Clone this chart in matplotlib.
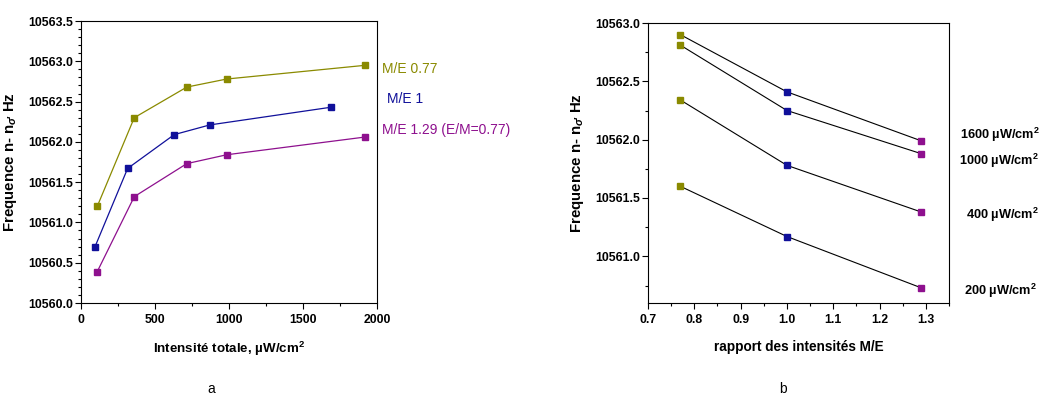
import matplotlib
matplotlib.use("Agg")
import matplotlib.pyplot as plt
from matplotlib.ticker import MultipleLocator, FormatStrFormatter

plt.rcParams['font.family'] = ['Liberation Sans', 'DejaVu Sans']
plt.rcParams['mathtext.fontset'] = 'custom'
plt.rcParams['mathtext.rm'] = 'Liberation Sans:bold'
plt.rcParams['mathtext.it'] = 'Liberation Sans:italic:bold'

# Panel a data
x_077 = [110, 360, 715, 985, 1920]
y_077 = [10561.20, 10562.30, 10562.68, 10562.78, 10562.95]
x_1 = [95, 315, 630, 870, 1690]
y_1 = [10560.70, 10561.67, 10562.09, 10562.21, 10562.43]
x_129 = [110, 360, 715, 985, 1920]
y_129 = [10560.39, 10561.32, 10561.73, 10561.84, 10562.06]
labels_a = ['M/E 0.77', 'M/E 1', 'M/E 1.29 (E/M=0.77)']

# Panel b data
ratio = [0.77, 1.0, 1.29]
y_1600 = [10562.90, 10562.41, 10561.99]
y_1000 = [10562.81, 10562.25, 10561.88]
y_400 = [10562.34, 10561.78, 10561.38]
y_200 = [10561.60, 10561.17, 10560.73]
labels_b = ['1600 µW/cm$^2$', '1000 µW/cm$^2$', '400 µW/cm$^2$', '200 µW/cm$^2$']

c_olive = '#8a8a00'
c_blue = '#10109a'
c_purple = '#8e108e'
ratio_colors = [c_olive, c_blue, c_purple]

W, H = 1043, 396
fig = plt.figure(figsize=(W / 100, H / 100), dpi=100)

def ax_rect(l, r, t, b):
    return [l / W, 1 - b / H, (r - l) / W, (b - t) / H]

def style(ax):
    ax.tick_params(axis='both', which='both', direction='out', top=False, right=False,
                   labelsize=8.8, width=0.8)
    ax.tick_params(axis='x', which='major', pad=4)
    ax.tick_params(axis='y', which='major', pad=2)
    ax.tick_params(which='major', length=4)
    ax.tick_params(which='minor', length=2)
    for lab in ax.get_xticklabels() + ax.get_yticklabels():
        lab.set_fontweight('bold')
    for s in ax.spines.values():
        s.set_linewidth(0.8)

ylab = r'Frequence n- n$_{\sigma\!\prime}$ Hz'

# Panel a
axa = fig.add_axes(ax_rect(81, 377, 21, 303))
for xs, ys, c in [(x_077, y_077, c_olive), (x_1, y_1, c_blue), (x_129, y_129, c_purple)]:
    axa.plot(xs, ys, '-', color=c, lw=0.9, marker='s', ms=5, mfc=c, mec=c)
axa.set_xlim(0, 2000)
axa.set_ylim(10560.0, 10563.5)
axa.xaxis.set_major_locator(MultipleLocator(500))
axa.xaxis.set_minor_locator(MultipleLocator(250))
axa.yaxis.set_major_locator(MultipleLocator(0.5))
axa.yaxis.set_minor_locator(MultipleLocator(0.1))
axa.yaxis.set_major_formatter(FormatStrFormatter('%.1f'))
style(axa)
axa.set_xlabel('Intensité totale, µW/cm$^2$', fontsize=9.6, fontweight='bold', labelpad=10)
axa.set_ylabel(ylab, fontsize=10.8, fontweight='bold', labelpad=6)
for txt, yy, c in zip(labels_a, [69, 99, 130], [c_olive, c_blue, c_purple]):
    xx = 382 if txt != 'M/E 1' else 387
    fig.text(xx / W, 1 - yy / H, txt, color=c, fontsize=10, va='center', ha='left')
fig.text(211 / W, 1 - 389 / H, 'a', fontsize=10, ha='center', va='center')

# Panel b
axb = fig.add_axes(ax_rect(648, 949, 23, 303))
for ys in [y_1600, y_1000, y_400, y_200]:
    axb.plot(ratio, ys, '-', color='black', lw=0.8, zorder=2)
    for xv, yv, c in zip(ratio, ys, ratio_colors):
        axb.plot([xv], [yv], 's', ms=5, mfc=c, mec=c, zorder=3)
axb.set_xlim(0.7, 1.35)
axb.set_ylim(10560.6, 10563.0)
axb.xaxis.set_major_locator(MultipleLocator(0.1))
axb.xaxis.set_minor_locator(MultipleLocator(0.05))
axb.yaxis.set_major_locator(MultipleLocator(0.5))
axb.yaxis.set_minor_locator(MultipleLocator(0.25))
axb.yaxis.set_major_formatter(FormatStrFormatter('%.1f'))
axb.xaxis.set_major_formatter(FormatStrFormatter('%.1f'))
style(axb)
axb.set_xlabel('rapport des intensités M/E', fontsize=9.8, fontweight='bold', labelpad=10)
axb.set_ylabel(ylab, fontsize=10.8, fontweight='bold', labelpad=6)
for txt, yy, xx in zip(labels_b, [135, 161, 215, 291], [960, 959, 966, 964]):
    fig.text(xx / W, 1 - yy / H, txt, fontsize=9.2, fontweight='bold', va='center', ha='left')
fig.text(783 / W, 1 - 389 / H, 'b', fontsize=10, ha='center', va='center')

fig.savefig('out.png', dpi=100)
